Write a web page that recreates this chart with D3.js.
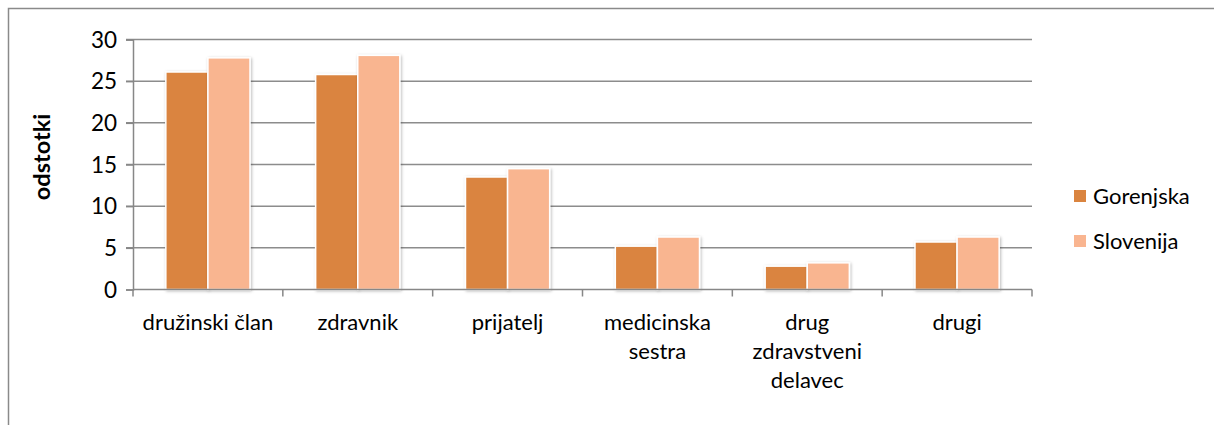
<!DOCTYPE html>
<html>
<head>
<meta charset="utf-8">
<script src="https://cdn.jsdelivr.net/npm/d3@7"></script>
<style>
  html, body { margin: 0; padding: 0; background: #fff; }
  svg { display: block; font-family: Lato, "Open Sans", sans-serif; }
</style>
</head>
<body>
<svg id="chart" width="1214" height="425"></svg>
<script>
// Categories (each label split into its display lines)
const categories = ["družinski član", "zdravnik", "prijatelj", "medicinska sestra", "drug zdravstveni delavec", "drugi"];
const categoryLines = [["družinski član"], ["zdravnik"], ["prijatelj"], ["medicinska", "sestra"], ["drug", "zdravstveni", "delavec"], ["drugi"]];
const seriesNames = ["Gorenjska", "Slovenija"];
const gorenjska = [26.1, 25.8, 13.5, 5.2, 2.8, 5.7];
const slovenija = [27.8, 28.1, 14.5, 6.3, 3.2, 6.3];
const yTicks = [0, 5, 10, 15, 20, 25, 30];
const yTitle = "odstotki";

const colors = { Gorenjska: "#DA843F", Slovenija: "#F9B590" };
const series = [gorenjska, slovenija];

const svg = d3.select("#chart");
const plot = { left: 133, right: 1032, top: 39.5, bottom: 289.5 };

// Shadow behind bars
const defs = svg.append("defs");
const f = defs.append("filter").attr("id", "shadow")
  .attr("x", "-20%").attr("y", "-20%").attr("width", "140%").attr("height", "140%");
f.append("feDropShadow").attr("dx", 1).attr("dy", 1).attr("stdDeviation", 1.8)
  .attr("flood-color", "#000").attr("flood-opacity", 0.28);

// Chart area frame
svg.append("rect").attr("x", 8.5).attr("y", 8.5).attr("width", 1400).attr("height", 600)
  .attr("fill", "none").attr("stroke", "#8a8a8a").attr("stroke-width", 1.5);

const x0 = d3.scaleBand().domain(categories).range([plot.left, plot.right]).padding(0);
const x1 = d3.scaleBand().domain(seriesNames).range([0, x0.bandwidth()]).paddingInner(0).paddingOuter(0.78);
const y = d3.scaleLinear().domain([0, 30]).range([plot.bottom, plot.top]);

// Gridlines
svg.append("g").selectAll("line").data(yTicks.filter(d => d > 0)).join("line")
  .attr("x1", plot.left - 7).attr("x2", plot.right)
  .attr("y1", d => y(d)).attr("y2", d => y(d))
  .attr("stroke", "#8c8c8c").attr("stroke-width", 1.5);

// Y axis
const yAxis = svg.append("g").attr("transform", `translate(${plot.left},0)`)
  .call(d3.axisLeft(y).tickValues(yTicks).tickSize(7).tickPadding(9).tickFormat(d3.format("d")));
yAxis.select(".domain").attr("stroke", "#878787").attr("stroke-width", 1.5);
yAxis.selectAll(".tick line").attr("stroke", "#878787").attr("stroke-width", 1.5);
yAxis.selectAll(".tick text").attr("font-size", 22.5).attr("fill", "#000").attr("font-family", "Lato, sans-serif").attr("dy", "0.34em");

// Bars
const groups = svg.append("g").selectAll("g").data(categories).join("g")
  .attr("transform", d => `translate(${x0(d)},0)`);
groups.selectAll("rect").data((d, i) => seriesNames.map((s, k) => ({ s, v: series[k][i] }))).join("rect")
  .attr("x", d => x1(d.s)).attr("width", x1.bandwidth())
  .attr("y", d => y(d.v)).attr("height", d => y(0) - y(d.v))
  .attr("fill", d => colors[d.s]).attr("stroke", "#fff").attr("stroke-width", 1.5)
  .attr("filter", "url(#shadow)");

// X axis
const xAxis = svg.append("g").attr("transform", `translate(0,${plot.bottom})`);
xAxis.append("line").attr("x1", plot.left).attr("x2", plot.right).attr("y1", 0).attr("y2", 0)
  .attr("stroke", "#878787").attr("stroke-width", 1.5);
const bounds = categories.map(c => x0(c)).concat([plot.right]);
xAxis.selectAll("line.tick").data(bounds).join("line").attr("class", "tick")
  .attr("x1", d => d).attr("x2", d => d).attr("y1", 0).attr("y2", 7)
  .attr("stroke", "#878787").attr("stroke-width", 1.5);
const labels = xAxis.selectAll("text.cat").data(categories).join("text").attr("class", "cat")
  .attr("text-anchor", "middle").attr("font-size", 22).attr("fill", "#000")
  .attr("transform", d => `translate(${x0(d) + x0.bandwidth() / 2},0)`);
labels.selectAll("tspan").data((d, i) => categoryLines[i]).join("tspan")
  .attr("x", 0).attr("y", (d, j) => 40 + j * 29).text(d => d);

// Y axis title
svg.append("text").attr("transform", "translate(50,157) rotate(-90)")
  .attr("text-anchor", "middle").attr("font-size", 23.5).attr("font-weight", "bold").attr("fill", "#000")
  .text(yTitle);

// Legend
const legend = svg.append("g").selectAll("g").data(seriesNames).join("g")
  .attr("transform", (d, i) => `translate(1074,${196 + i * 45})`);
legend.append("rect").attr("x", 0).attr("y", -6).attr("width", 12).attr("height", 12)
  .attr("fill", d => colors[d]);
legend.append("text").attr("x", 19).attr("y", 0).attr("dy", "0.35em")
  .attr("font-size", 22).attr("fill", "#000").text(d => d);
</script>
</body>
</html>
